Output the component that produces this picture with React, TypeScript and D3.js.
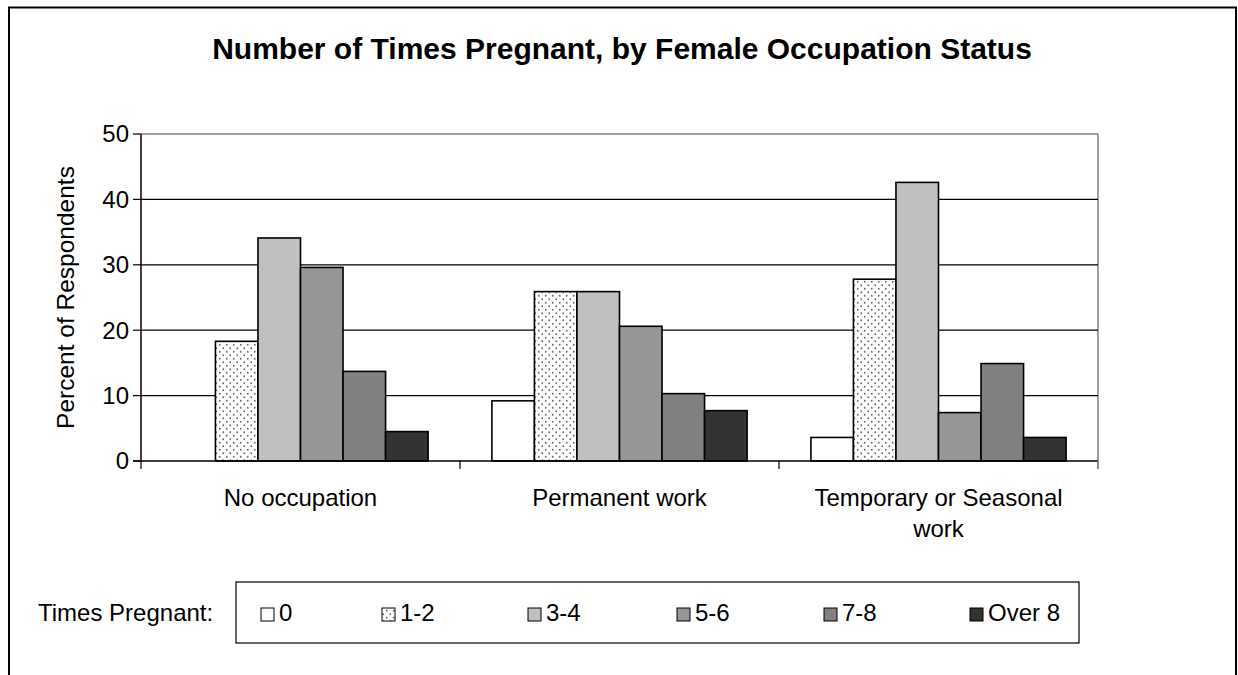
import React from "react";
import * as d3 from "d3";

const categories = ["No occupation", "Permanent work", "Temporary or Seasonal work"];
const seriesNames = ["0", "1-2", "3-4", "5-6", "7-8", "Over 8"];
const noOccupation = [0, 18.3, 34.1, 29.6, 13.7, 4.5];
const permanentWork = [9.2, 25.9, 25.9, 20.6, 10.3, 7.7];
const temporaryWork = [3.6, 27.8, 42.6, 7.4, 14.9, 3.6];
const yTicks = [0, 10, 20, 30, 40, 50];
const seriesFills = ["#FFFFFF", "url(#dots)", "#C0C0C0", "#969696", "#808080", "#333333"];

const FONT = "'Liberation Sans', Arial, sans-serif";

export default function App() {
  const W = 1238, H = 675;
  const left = 141, right = 1098, top = 134, bottom = 461;
  const values = [noOccupation, permanentWork, temporaryWork];

  const x0 = d3.scaleBand<string>().domain(categories).range([left, right]).paddingInner(0).paddingOuter(0);
  const x1 = d3.scaleBand<string>().domain(seriesNames).range([0, x0.bandwidth()]).paddingInner(0).paddingOuter(0.75);
  const y = d3.scaleLinear().domain([0, 50]).range([bottom, top]);

  const catLines: string[][] = [["No occupation"], ["Permanent work"], ["Temporary or Seasonal", "work"]];

  const legendItemX = [261, 382, 528, 677, 824, 970];
  const sq = 13;

  return (
    <svg width={W} height={H} style={{ position: "absolute", left: 0, top: 0, background: "#fff" }} fontFamily={FONT}>
      <defs>
        <pattern id="dots" width="7" height="7" patternUnits="userSpaceOnUse">
          <rect width="7" height="7" fill="#fff" />
          <circle cx="1.75" cy="1.75" r="0.9" fill="#666" />
          <circle cx="5.25" cy="5.25" r="0.9" fill="#666" />
        </pattern>
      </defs>
      <rect x={0} y={0} width={W} height={H} fill="#fff" />
      <rect x={9} y={7.5} width={1227} height={720} fill="none" stroke="#000" strokeWidth={2} />

      <text x={622} y={59} textAnchor="middle" fontSize={30} fontWeight="bold" fill="#000">
        Number of Times Pregnant, by Female Occupation Status
      </text>

      <line x1={left} x2={right} y1={y(50)} y2={y(50)} stroke="#808080" strokeWidth={1.5} />
      <line x1={right} x2={right} y1={top} y2={bottom + 8} stroke="#808080" strokeWidth={1.5} />

      {yTicks.filter((t) => t > 0 && t < 50).map((t) => (
        <line key={t} x1={left} x2={right} y1={y(t)} y2={y(t)} stroke="#000" strokeWidth={1.2} />
      ))}

      {categories.map((c, ci) => (
        <g key={c} transform={`translate(${x0(c)},0)`}>
          {seriesNames.map((s, si) => {
            const v = values[ci][si];
            if (v <= 0) return null;
            return (
              <rect key={s} x={x1(s)} y={y(v)} width={x1.bandwidth()} height={y(0) - y(v)}
                fill={seriesFills[si]} stroke="#000" strokeWidth={1.6} />
            );
          })}
        </g>
      ))}

      <line x1={left} x2={left} y1={top} y2={bottom} stroke="#000" strokeWidth={1.5} />
      {yTicks.map((t) => (
        <g key={t}>
          <line x1={left - 8} x2={left} y1={y(t)} y2={y(t)} stroke="#000" strokeWidth={1.2} />
          <text x={left - 12} y={y(t)} dy="0.35em" textAnchor="end" fontSize={24} fill="#000">{t}</text>
        </g>
      ))}
      <text transform={`translate(74,${(top + bottom) / 2}) rotate(-90)`} textAnchor="middle" fontSize={24.5} fill="#000">
        Percent of Respondents
      </text>

      <line x1={left - 8} x2={right} y1={bottom} y2={bottom} stroke="#000" strokeWidth={1.5} />
      {[...categories.map((c) => x0(c) as number), right].map((xv, i) => (
        <line key={i} x1={xv} x2={xv} y1={bottom} y2={bottom + 8} stroke={i === 3 ? "#808080" : "#000"} strokeWidth={1.2} />
      ))}
      {categories.map((c, ci) => (
        <text key={c} x={(x0(c) as number) + x0.bandwidth() / 2} y={506} textAnchor="middle" fontSize={24} fill="#000">
          {catLines[ci].map((ln, li) => (
            <tspan key={li} x={(x0(c) as number) + x0.bandwidth() / 2} dy={li === 0 ? 0 : 31}>{ln}</tspan>
          ))}
        </text>
      ))}

      <text x={38} y={621} fontSize={24} fill="#000">Times Pregnant:</text>
      <rect x={236} y={582} width={843} height={61} fill="#fff" stroke="#000" strokeWidth={1.2} />
      {seriesNames.map((s, si) => (
        <g key={s}>
          <rect x={legendItemX[si]} y={621 - sq} width={sq} height={sq} fill={seriesFills[si]} stroke="#000" strokeWidth={1} />
          <text x={legendItemX[si] + sq + 5} y={621} fontSize={24} fill="#000">{s}</text>
        </g>
      ))}
    </svg>
  );
}
